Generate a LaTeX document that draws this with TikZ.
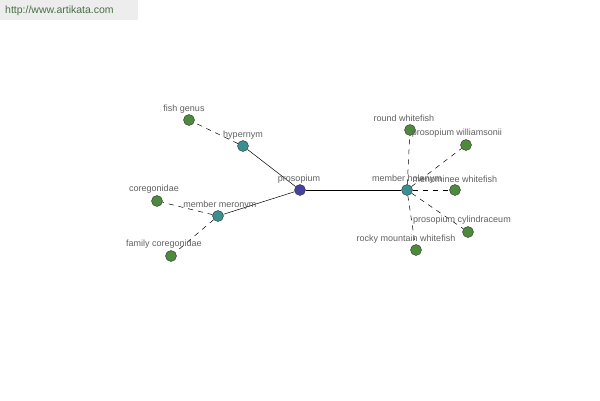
\documentclass[tikz,border=0pt]{standalone}
\usepackage{fontspec}
\setmainfont{Liberation Sans}
\begin{document}
\begin{tikzpicture}[x=1pt, y=-1pt,
    word/.style={circle, draw=black!80, line width=0.4pt, minimum size=11pt, inner sep=0pt},
    root/.style={word, fill=rootblue},
    relation/.style={word, fill=reltea},
    leaf/.style={word, fill=leafgreen},
    tag/.style={font=\fontsize{9}{10}\selectfont, text=black!62, inner sep=0pt},
    link/.style={line width=0.5pt},
    dashlink/.style={line width=0.5pt, dash pattern=on 5pt off 5pt}]
    \definecolor{rootblue}{HTML}{4444A0}
    \definecolor{reltea}{HTML}{3A9090}
    \definecolor{leafgreen}{HTML}{4E8A3E}
    \definecolor{sitegreen}{HTML}{4A7048}
    \useasboundingbox (0,0) rectangle (600,400);
    \fill[white] (0,0) rectangle (600,400);

    % Site banner
    \fill[black!7] (0,0) rectangle (138,20);
    \node[font=\fontsize{10.5}{12}\selectfont, text=sitegreen, anchor=west, inner sep=0pt] (site) at (5,11) {http://www.artikata.com};

    % Draw the nodes
    \node[root] (prosopium) at (300,190) {};
    \node[relation] (hypernym) at (243,146) {};
    \node[relation] (meronym) at (218,216) {};
    \node[relation] (holonym) at (407,190) {};
    \node[leaf] (fishgenus) at (189,120) {};
    \node[leaf] (coregonidae) at (157,201) {};
    \node[leaf] (family) at (171,256) {};
    \node[leaf] (round) at (410,130) {};
    \node[leaf] (williamsonii) at (466,145) {};
    \node[leaf] (menominee) at (455,190) {};
    \node[leaf] (cylindraceum) at (468,232) {};
    \node[leaf] (rocky) at (416,250) {};

    % Draw the links
    \draw[link] (prosopium) -- (hypernym);
    \draw[link] (prosopium) -- (meronym);
    \draw[link] (prosopium) -- (holonym);
    \draw[dashlink] (hypernym) -- (fishgenus);
    \draw[dashlink] (meronym) -- (coregonidae);
    \draw[dashlink] (meronym) -- (family);
    \foreach \leafname in {round, williamsonii, menominee, cylindraceum, rocky}
        \draw[dashlink] (holonym) -- (\leafname);

    % Labels for the nodes
    \node[tag] (tprosopium) at (299,179) {prosopium};
    \node[tag] (thypernym) at (243,135) {hypernym};
    \node[tag] (tmeronym) at (220,205) {member meronym};
    \node[tag] (tholonym) at (407,179) {member holonym};
    \node[tag] (tfishgenus) at (184,109) {fish genus};
    \node[tag] (tcoregonidae) at (154,189) {coregonidae};
    \node[tag] (tfamily) at (164,244) {family coregonidae};
    \node[tag] (tround) at (404,118) {round whitefish};
    \node[tag] (twilliamsonii) at (457,133) {prosopium williamsonii};
    \node[tag] (tmenominee) at (455,179) {menominee whitefish};
    \node[tag] (tcylindraceum) at (462,220) {prosopium cylindraceum};
    \node[tag] (trocky) at (406,239) {rocky mountain whitefish};
\end{tikzpicture}
\end{document}
